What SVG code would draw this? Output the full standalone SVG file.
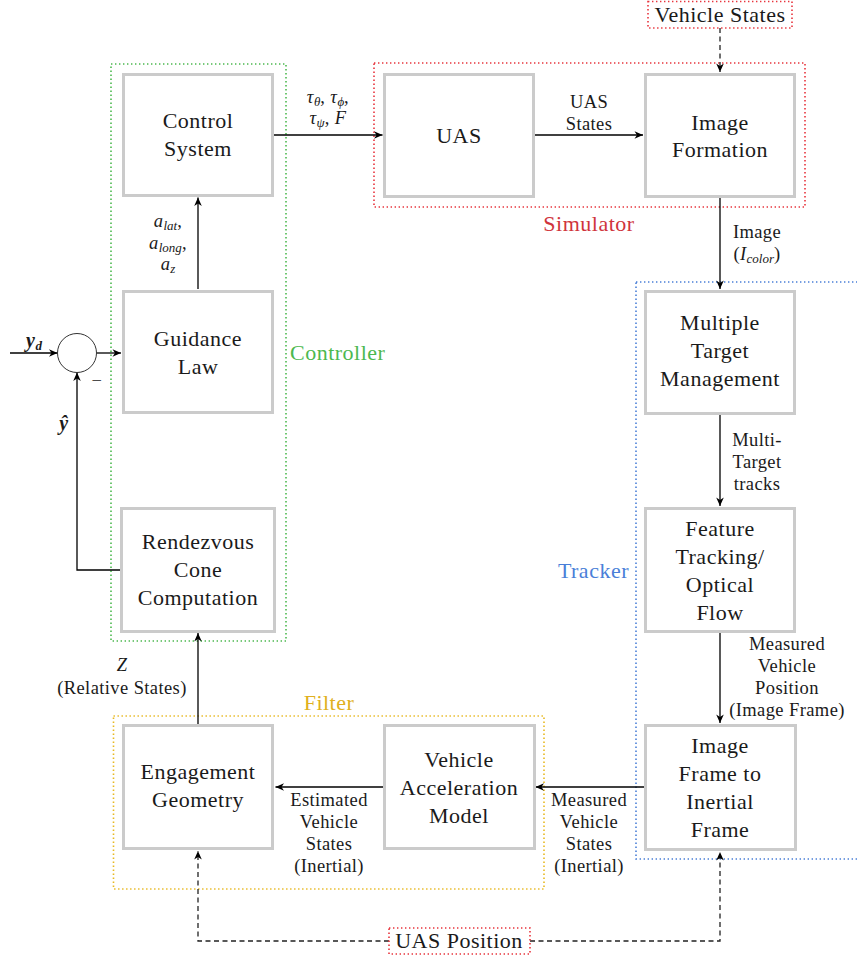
<svg xmlns="http://www.w3.org/2000/svg" width="857" height="958" viewBox="0 0 857 958" font-family="'Liberation Serif', 'Times New Roman', 'DejaVu Serif', serif">
  <defs>
    <style>
      text { font-family: 'Liberation Serif', 'Times New Roman', Times, 'DejaVu Serif', serif; }
      .box { fill: #ffffff; stroke: #cbcbcb; stroke-width: 3; }
      .t { font-size: 22px; fill: #1a1a1a; text-anchor: middle; letter-spacing: 0.5px; }
      .sm { font-size: 18.5px; letter-spacing: 0.4px; }
      .it { font-style: italic; }
      .sub { font-size: 13px; font-style: italic; letter-spacing: 0; }
      .wire { fill: none; stroke: #000000; stroke-width: 1.3; }
      .arr { marker-end: url(#ah); }
      .dash { stroke-dasharray: 5 3.5; stroke: #222222; }
      .grp { fill: none; stroke-width: 1.6; stroke-dasharray: 1.4 2.6; }
    </style>
    <marker id="ah" viewBox="-10 -5 11 10" refX="0" refY="0" markerWidth="11" markerHeight="10" markerUnits="userSpaceOnUse" orient="auto">
      <path d="M0,0 L-8.5,-3.8 L-6,0 L-8.5,3.8 Z" fill="#000000"/>
    </marker>
  </defs>

  <!-- group frames -->
  <g id="controller-group">
    <rect class="grp" x="111" y="64" width="175" height="577" stroke="#4cb84f"/>
    <text class="t" x="290" y="360" style="text-anchor:start;fill:#4cb84f">Controller</text>
  </g>
  <g id="simulator-group">
    <rect class="grp" x="374" y="63" width="431" height="144" stroke="#e8343c"/>
    <text class="t" x="589" y="231" style="fill:#d0343c">Simulator</text>
  </g>
  <g id="tracker-group">
    <rect class="grp" x="636" y="282" width="240" height="577" stroke="#4a7fd8"/>
    <text class="t" x="629" y="578" style="text-anchor:end;fill:#4a7fd8">Tracker</text>
  </g>
  <g id="filter-group">
    <rect class="grp" x="113.5" y="716" width="430.5" height="173" stroke="#e8b820"/>
    <text class="t" x="329" y="710" style="fill:#e0b020">Filter</text>
  </g>

  <!-- connectors -->
  <g id="connectors">
    <!-- reference input and summing junction -->
    <path class="wire arr" d="M10,353 H57.5"/>
    <path class="wire arr" d="M96.5,353 H121"/>
    <path class="wire arr" d="M120,570 H77 V372.5"/>
    <!-- controller chain -->
    <path class="wire arr" d="M198,289 V197.5"/>
    <path class="wire arr" d="M274,135 H382.5"/>
    <!-- simulator -->
    <path class="wire arr" d="M535,135 H643"/>
    <path class="wire arr dash" d="M720,28 V72"/>
    <!-- tracker chain -->
    <path class="wire arr" d="M720,198 V289"/>
    <path class="wire arr" d="M720,415 V506"/>
    <path class="wire arr" d="M720,633 V723"/>
    <!-- filter chain -->
    <path class="wire arr" d="M644,787 H535.5"/>
    <path class="wire arr" d="M383,787 H275.5"/>
    <path class="wire arr" d="M198,724 V633"/>
    <!-- UAS position feeds -->
    <path class="wire arr dash" d="M389,941 H198 V851"/>
    <path class="wire arr dash" d="M530,941 H720 V852"/>
  </g>

  <!-- summing junction -->
  <g id="sum">
    <circle cx="77" cy="353" r="19.5" fill="#ffffff" stroke="#333333" stroke-width="1"/>
    <text class="t sm" x="97" y="387">−</text>
  </g>

  <!-- nodes -->
  <g id="control-system">
    <rect class="box" x="123.5" y="74.5" width="149" height="121"/>
    <text class="t" x="198" y="128">Control</text>
    <text class="t" x="198" y="156">System</text>
  </g>
  <g id="guidance-law">
    <rect class="box" x="123.5" y="291.5" width="149" height="121"/>
    <text class="t" x="198" y="346">Guidance</text>
    <text class="t" x="198" y="374">Law</text>
  </g>
  <g id="rendezvous-cone">
    <rect class="box" x="121.5" y="508.5" width="153" height="123"/>
    <text class="t" x="198" y="549">Rendezvous</text>
    <text class="t" x="198" y="577">Cone</text>
    <text class="t" x="198" y="605">Computation</text>
  </g>
  <g id="uas">
    <rect class="box" x="384.5" y="74.5" width="149" height="122"/>
    <text class="t" x="459" y="143">UAS</text>
  </g>
  <g id="image-formation">
    <rect class="box" x="645.5" y="74.5" width="149" height="122"/>
    <text class="t" x="720" y="130">Image</text>
    <text class="t" x="720" y="157">Formation</text>
  </g>
  <g id="multiple-target">
    <rect class="box" x="645.5" y="291.5" width="149" height="122"/>
    <text class="t" x="720" y="330">Multiple</text>
    <text class="t" x="720" y="358">Target</text>
    <text class="t" x="720" y="386">Management</text>
  </g>
  <g id="feature-tracking">
    <rect class="box" x="645.5" y="508.5" width="149" height="123"/>
    <text class="t" x="720" y="536">Feature</text>
    <text class="t" x="720" y="564">Tracking/</text>
    <text class="t" x="720" y="592">Optical</text>
    <text class="t" x="720" y="620">Flow</text>
  </g>
  <g id="image-to-inertial">
    <rect class="box" x="645.5" y="725.5" width="150" height="124"/>
    <text class="t" x="720" y="753">Image</text>
    <text class="t" x="720" y="781">Frame to</text>
    <text class="t" x="720" y="809">Inertial</text>
    <text class="t" x="720" y="837">Frame</text>
  </g>
  <g id="vehicle-acceleration">
    <rect class="box" x="384.5" y="725.5" width="150" height="123"/>
    <text class="t" x="459" y="767">Vehicle</text>
    <text class="t" x="459" y="795">Acceleration</text>
    <text class="t" x="459" y="823">Model</text>
  </g>
  <g id="engagement-geometry">
    <rect class="box" x="123.5" y="725.5" width="149" height="123"/>
    <text class="t" x="198" y="779">Engagement</text>
    <text class="t" x="198" y="807">Geometry</text>
  </g>
  <g id="vehicle-states">
    <rect class="grp" x="648" y="1.5" width="144" height="26.5" stroke="#e8343c"/>
    <text class="t" x="720" y="22">Vehicle States</text>
  </g>
  <g id="uas-position">
    <rect class="grp" x="389" y="928" width="141" height="26" stroke="#e8343c"/>
    <text class="t" x="459" y="948">UAS Position</text>
  </g>

  <!-- connector labels -->
  <g id="labels">
    <text class="t sm" x="34" y="347" style="font-weight:bold;font-style:italic;font-size:20px">y<tspan class="sub" dy="3" style="font-weight:bold">d</tspan></text>
    <text class="t sm" x="64" y="430" style="font-weight:bold;font-style:italic;font-size:20px">ŷ</text>

    <text class="t sm" x="168" y="227"><tspan class="it">a</tspan><tspan class="sub" dy="3">lat</tspan><tspan dy="-3">,</tspan></text>
    <text class="t sm" x="168" y="249"><tspan class="it">a</tspan><tspan class="sub" dy="3">long</tspan><tspan dy="-3">,</tspan></text>
    <text class="t sm" x="168" y="270"><tspan class="it">a</tspan><tspan class="sub" dy="3">z</tspan></text>

    <text class="t sm" x="328" y="103"><tspan class="it">τ</tspan><tspan class="sub" dy="3">θ</tspan><tspan dy="-3">, </tspan><tspan class="it">τ</tspan><tspan class="sub" dy="3">ϕ</tspan><tspan dy="-3">,</tspan></text>
    <text class="t sm" x="328" y="124"><tspan class="it">τ</tspan><tspan class="sub" dy="3">ψ</tspan><tspan dy="-3">, </tspan><tspan class="it">F</tspan></text>

    <text class="t sm" x="589" y="108">UAS</text>
    <text class="t sm" x="589" y="130">States</text>

    <text class="t sm" x="757" y="238">Image</text>
    <text class="t sm" x="757" y="260">(<tspan class="it">I</tspan><tspan class="sub" dy="3">color</tspan><tspan dy="-3">)</tspan></text>

    <text class="t sm" x="757" y="446">Multi-</text>
    <text class="t sm" x="757" y="468">Target</text>
    <text class="t sm" x="757" y="490">tracks</text>

    <text class="t sm" x="787" y="650">Measured</text>
    <text class="t sm" x="787" y="672">Vehicle</text>
    <text class="t sm" x="787" y="694">Position</text>
    <text class="t sm" x="787" y="716">(Image Frame)</text>

    <text class="t sm" x="589" y="806">Measured</text>
    <text class="t sm" x="589" y="828">Vehicle</text>
    <text class="t sm" x="589" y="850">States</text>
    <text class="t sm" x="589" y="872">(Inertial)</text>

    <text class="t sm" x="329" y="806">Estimated</text>
    <text class="t sm" x="329" y="828">Vehicle</text>
    <text class="t sm" x="329" y="850">States</text>
    <text class="t sm" x="329" y="872">(Inertial)</text>

    <text class="t sm it" x="122" y="671">Z</text>
    <text class="t sm" x="122" y="694">(Relative States)</text>
  </g>
</svg>
